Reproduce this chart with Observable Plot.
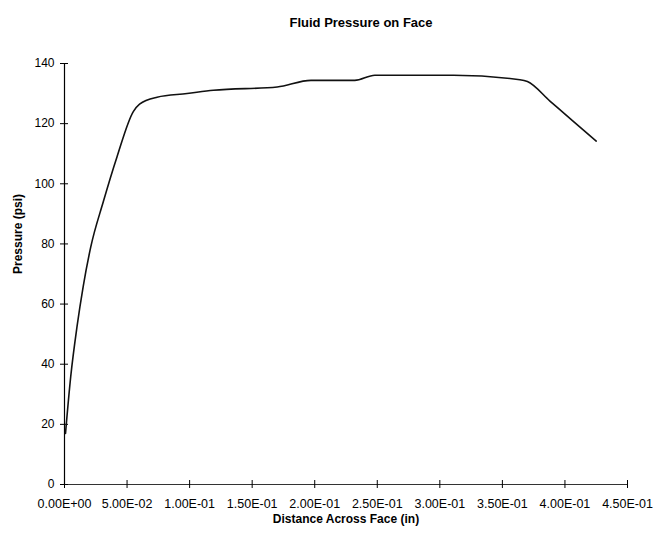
<!DOCTYPE html>
<html>
<head>
<meta charset="utf-8">
<script src="https://cdn.jsdelivr.net/npm/d3@7"></script>
<script src="https://cdn.jsdelivr.net/npm/@observablehq/plot@0.6"></script>
<style>
  html, body { margin: 0; padding: 0; background: #fff; }
  svg { font-family: "Liberation Sans", Arial, sans-serif; }
</style>
</head>
<body>
<div id="chart"></div>
<script>
const title = "Fluid Pressure on Face";
const xLabel = "Distance Across Face (in)";
const yLabel = "Pressure (psi)";

const distance = [0.0008, 0.005, 0.010, 0.015, 0.021, 0.031, 0.042, 0.055, 0.060, 0.074, 0.098, 0.119, 0.170, 0.197, 0.232, 0.248, 0.311, 0.364, 0.370, 0.388, 0.406, 0.425];
const pressure = [17, 36, 52.5, 66, 79, 94, 109, 124, 126.5, 128.8, 130, 131.1, 132.2, 134.4, 134.4, 136.1, 136.1, 134.6, 134, 127.5, 121, 114.2];

const xTicks = [0, 0.05, 0.10, 0.15, 0.20, 0.25, 0.30, 0.35, 0.40, 0.45];
const yTicks = [0, 20, 40, 60, 80, 100, 120, 140];

const data = distance.map((d, i) => ({x: d, y: pressure[i]}));

const fmtE = v => {
  const s = v.toExponential(2).toUpperCase();
  return s.replace(/E([+-])(\d)$/, "E$10$2");
};

const W = 654, H = 533;
const mL = 64, mR = 27, mT = 63, mB = 49;
const plotW = W - mL - mR, plotH = H - mT - mB;

const chart = Plot.plot({
  width: W,
  height: H,
  marginLeft: mL,
  marginRight: mR,
  marginTop: mT,
  marginBottom: mB,
  style: {fontFamily: "'Liberation Sans', Arial, sans-serif", color: "#000", background: "#fff"},
  x: {domain: [0, 0.45]},
  y: {domain: [0, 140]},
  marks: [
    Plot.ruleY([0], {stroke: "#333", strokeWidth: 1.2}),
    Plot.ruleX([0], {stroke: "#000", strokeWidth: 1.2}),
    Plot.tickY(yTicks, {y: d => d, insetRight: plotW - 4, stroke: "#000"}),
    Plot.tickX(xTicks, {x: d => d, insetTop: plotH - 4, stroke: "#000"}),
    Plot.axisY(yTicks, {anchor: "left", tickSize: 4, tickPadding: 6, fontSize: 12, label: null, tickFormat: d => String(d), stroke: "#000"}),
    Plot.axisX(xTicks, {anchor: "bottom", tickSize: 4, tickPadding: 11, fontSize: 12.5, label: null, tickFormat: fmtE, stroke: "#000"}),
    Plot.line(data, {x: "x", y: "y", curve: "monotone-x", stroke: "#111", strokeWidth: 1.6}),
    Plot.text([title], {frameAnchor: "top", dy: -46, dx: 15, fontWeight: "bold", fontSize: 13, fill: "#000"}),
    Plot.text([xLabel], {frameAnchor: "bottom", dy: 38, fontWeight: "bold", fontSize: 12, fill: "#000"}),
    Plot.text([yLabel], {frameAnchor: "left", dx: -46, rotate: -90, fontWeight: "bold", fontSize: 12, fill: "#000"})
  ]
});
document.getElementById("chart").appendChild(chart);
</script>
</body>
</html>
